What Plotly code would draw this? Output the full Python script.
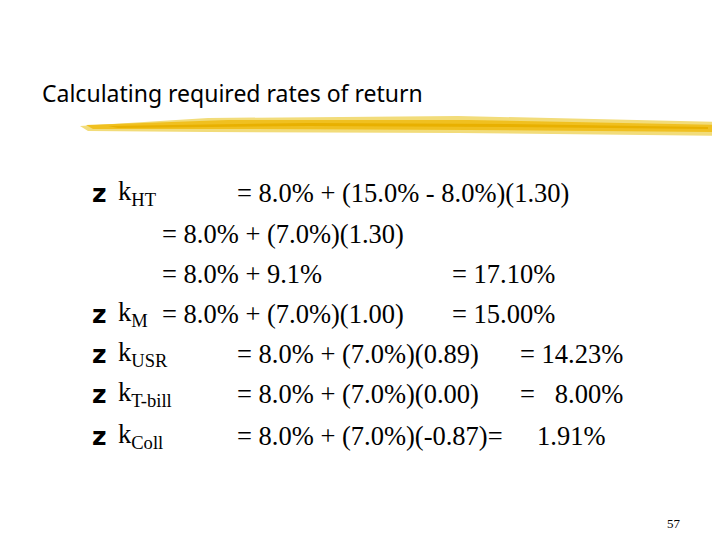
import plotly.graph_objects as go

title = "Calculating required rates of return"
names = ["k<sub>HT</sub>", "", "", "k<sub>M</sub>", "k<sub>USR</sub>", "k<sub>T-bill</sub>", "k<sub>Coll</sub>"]
bullets = [True, False, False, True, True, True, True]
formulas = [
    "= 8.0% + (15.0% - 8.0%)(1.30)",
    "= 8.0% + (7.0%)(1.30)",
    "= 8.0% + 9.1%",
    "= 8.0% + (7.0%)(1.00)",
    "= 8.0% + (7.0%)(0.89)",
    "= 8.0% + (7.0%)(0.00)",
    "= 8.0% + (7.0%)(-0.87)=",
]
results = ["", "", "= 17.10%", "= 15.00%", "= 14.23%", "=   8.00%", "1.91%"]
page = "57"

W, H = 720, 540
row_y = [185, 226, 266, 306, 346, 386, 428]
formula_x = [227, 152, 152, 152, 227, 227, 227]
result_x = [0, 0, 442, 442, 510, 510, 527]

def px(x):
    return x / W

def py(y):
    return 1 - y / H

fig = go.Figure()
serif = dict(family="Liberation Serif, Times New Roman, serif", size=26.5, color="black")
ann = []
ann.append(dict(x=px(32), y=py(85), text=title, showarrow=False, xanchor="left", yanchor="middle",
                font=dict(family="Noto Sans, sans-serif", size=23, color="black")))
for i in range(len(formulas)):
    y = py(row_y[i])
    if bullets[i]:
        ann.append(dict(x=px(82), y=y, text="<b>z</b>", showarrow=False, xanchor="left", yanchor="middle",
                        font=dict(family="DejaVu Sans, sans-serif", size=25, color="black")))
    if names[i]:
        ann.append(dict(x=px(108), y=y, text=names[i], showarrow=False, xanchor="left", yanchor="middle", font=serif))
    ann.append(dict(x=px(formula_x[i]), y=y, text=formulas[i], showarrow=False, xanchor="left", yanchor="middle", font=serif))
    if results[i]:
        ann.append(dict(x=px(result_x[i]), y=y, text=results[i].replace(" ", "&nbsp;"), showarrow=False,
                        xanchor="left", yanchor="middle", font=serif))
ann.append(dict(x=px(666), y=py(515), text=page, showarrow=False, xanchor="center", yanchor="middle",
                font=dict(family="Liberation Serif, serif", size=13, color="black")))

# yellow brush stroke under the title
def path(pts):
    return "M " + " L ".join(f"{px(a)},{py(b)}" for a, b in pts) + " Z"

shapes = [
    dict(type="path", xref="paper", yref="paper", line_width=0, fillcolor="#f2dc7a",
         path=path([(72, 118), (200, 110), (450, 108), (720, 114), (720, 128), (450, 125), (200, 124), (80, 123)])),
    dict(type="path", xref="paper", yref="paper", line_width=0, fillcolor="#f0c020",
         path=path([(78, 117), (220, 112), (460, 112), (720, 117), (720, 124), (460, 122), (220, 121), (85, 121)])),
    dict(type="path", xref="paper", yref="paper", line_width=0, fillcolor="#e8b000",
         path=path([(100, 118), (300, 115), (500, 116), (700, 119), (700, 121), (500, 119), (300, 118), (110, 120)])),
]

fig.update_layout(width=W, height=H, margin=dict(l=0, r=0, t=0, b=0),
                  paper_bgcolor="white", plot_bgcolor="white",
                  xaxis=dict(visible=False, range=[0, 1]), yaxis=dict(visible=False, range=[0, 1]),
                  annotations=ann, shapes=shapes, showlegend=False)
fig.write_html("out.html")
